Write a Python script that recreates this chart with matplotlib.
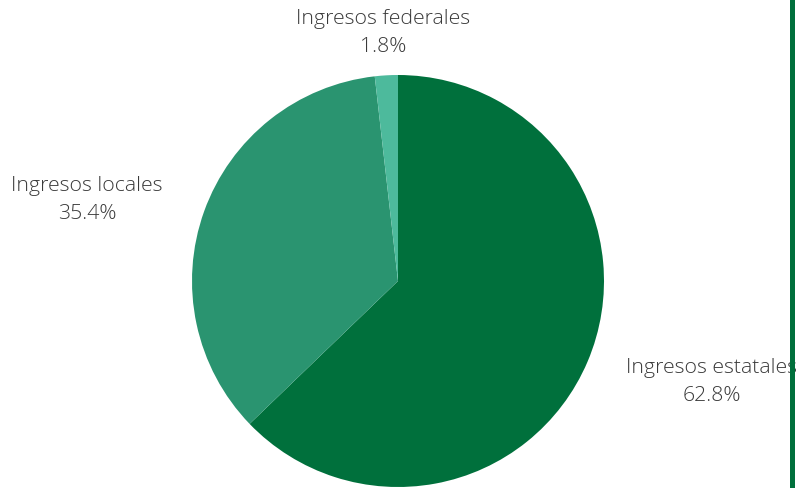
import matplotlib.pyplot as plt

# Data
labels = ['Ingresos estatales', 'Ingresos locales', 'Ingresos federales']
shares = [62.8, 35.4, 1.8]
colors = ['#00703c', '#2a9470', '#4dba9c']

# label anchor points (pixels from top-left), layout only
label_pos = [(712, 382), (87, 200), (383, 33)]

W, H = 796, 489
fig = plt.figure(figsize=(W / 100, H / 100), dpi=100)
ax = fig.add_axes([0, 0, 1, 1])

cx, cy, r = 398, H - 282, 206
ax.pie(shares, colors=colors, startangle=90, counterclock=False,
       center=(cx, cy), radius=r, frame=True,
       wedgeprops=dict(linewidth=0))
ax.set_xlim(0, W)
ax.set_ylim(0, H)
ax.set_aspect('equal')
ax.axis('off')

for lab, val, (x, y) in zip(labels, shares, label_pos):
    ax.text(x, H - y, f'{lab}\n{val:.1f}%', ha='center', va='center',
            fontsize=15.3, family='Open Sans', fontweight='light',
            color='#3a3a3a', linespacing=1.5)

# dark green bar on the right edge
ax.axvspan(790, 795, color='#00703c', linewidth=0, zorder=10)

fig.savefig('out.png', dpi=100)
